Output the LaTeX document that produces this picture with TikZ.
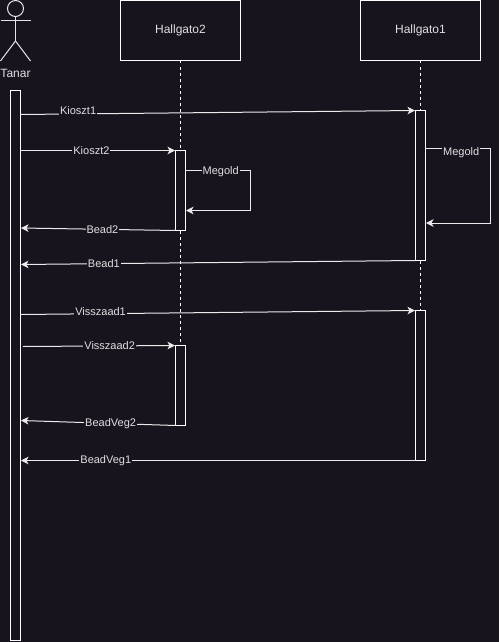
\documentclass[tikz,border=0pt]{standalone}
\usepackage{xcolor}
\usepackage{fontspec}
\setmainfont{Liberation Sans}
\usetikzlibrary{positioning, arrows.meta}
\definecolor{darkbg}{HTML}{18141D}
\definecolor{inktext}{HTML}{E0E0E0}

\begin{document}
\begin{tikzpicture}[
    x=1pt, y=-1pt,
    >=Stealth,
    line width=1pt,
    lifebox/.style={draw=white, minimum width=120pt, minimum height=60pt, inner sep=0pt, outer sep=0pt, align=center, text=inktext, font=\fontsize{12}{14}\selectfont},
    activation/.style={draw=white, minimum width=10pt, inner sep=0pt, outer sep=0pt},
    lifeline/.style={draw=white, dash pattern=on 3pt off 3pt},
    limb/.style={draw=white!90!black},
    msg/.style={-{Stealth[length=7.5pt, width=7.5pt, inset=2pt]}, draw=white!92!black},
    msglabel/.style={fill=darkbg, text=inktext, inner sep=1pt, font=\fontsize{11}{13}\selectfont},
]

    % Background
    \fill[darkbg] (0,0) rectangle (499,642);
    \useasboundingbox (0,0) rectangle (499,642);

    % Actor
    \node[circle, draw=white!90!black, minimum size=16pt, inner sep=0pt, outer sep=0pt] (head) at (15.5,8.5) {};
    \coordinate (hip) at (15.5,41);
    \coordinate (arm_l) at (0.5,20.5);
    \coordinate (arm_r) at (30.5,20.5);
    \coordinate (foot_l) at (0.5,61);
    \coordinate (foot_r) at (30.5,61);
    \node[text=inktext, font=\fontsize{12}{14}\selectfont] (tanar) at (15.5,73) {Tanar};
    \draw[limb] (head.south) -- (hip);
    \draw[limb] (arm_l) -- (arm_r);
    \draw[limb] (foot_l) -- (hip) -- (foot_r);

    % Lifeline boxes
    \node[lifebox] (hallgato2) at (180.5,30.5) {Hallgato2};
    \node[lifebox] (hallgato1) at (420.5,30.5) {Hallgato1};

    % Activations
    \node[activation, minimum height=550pt] (act_t) at (15.5,365.5) {};
    \node[activation, minimum height=80pt] (act_h2a) at (180.5,190.5) {};
    \node[activation, minimum height=80pt] (act_h2b) at (180.5,385.5) {};
    \node[activation, minimum height=150pt] (act_h1a) at (420.5,185.5) {};
    \node[activation, minimum height=150pt] (act_h1b) at (420.5,385.5) {};

    % Dashed lifelines
    \draw[lifeline] (hallgato2.south) -- (act_h2a.north);
    \draw[lifeline] (act_h2a.south) -- (act_h2b.north);
    \draw[lifeline] (hallgato1.south) -- (act_h1a.north);
    \draw[lifeline] (act_h1a.south) -- (act_h1b.north);

    % Kioszt
    \draw[msg] ([yshift=-24pt]act_t.north east) -- node[msglabel, pos=0.146, yshift=3pt] (kioszt1) {Kioszt1} ([xshift=-0.5pt]act_h1a.north west);
    \draw[msg] ([yshift=-60pt]act_t.north east) -- node[msglabel, pos=0.459] (kioszt2) {Kioszt2} ([xshift=-0.5pt]act_h2a.north west);

    % Megold
    \draw[msg] ([yshift=-20pt]act_h2a.north east) -- ++(64.5,0) node[msglabel, pos=0.545, yshift=-1.5pt] (megold2) {Megold} -- ++(0,40) -- ([yshift=-60pt, xshift=0.5pt]act_h2a.north east);
    \draw[msg] ([yshift=-37.5pt]act_h1a.north east) -- ++(65,0) node[msglabel, pos=0.55, yshift=-5pt] (megold1) {Megold} -- ++(0,75) -- ([yshift=-112.5pt, xshift=0.5pt]act_h1a.north east);

    % Bead
    \draw[msg] (act_h2a.south west) -- node[msglabel, pos=0.473] (bead2) {Bead2} ([yshift=-137.5pt, xshift=0.5pt]act_t.north east);
    \draw[msg] (act_h1a.south west) -- node[msglabel, pos=0.79] (bead1) {Bead1} ([yshift=-174pt, xshift=0.5pt]act_t.north east);

    % Visszaad
    \draw[msg] ([yshift=-224pt, xshift=0.5pt]act_t.north east) -- node[msglabel, pos=0.202, yshift=2pt] (visszaad1) {Visszaad1} ([xshift=-0.5pt]act_h1b.north west);
    \draw[msg] ([yshift=-256pt, xshift=2.5pt]act_t.north east) -- node[msglabel, pos=0.57] (visszaad2) {Visszaad2} ([xshift=-0.5pt]act_h2b.north west);

    % BeadVeg
    \draw[msg] (act_h2b.south west) -- node[msglabel, pos=0.42] (beadveg2) {BeadVeg2} ([yshift=-330pt, xshift=0.5pt]act_t.north east);
    \draw[msg] (act_h1b.south west) -- node[msglabel, pos=0.785] (beadveg1) {BeadVeg1} ([yshift=-370pt, xshift=0.5pt]act_t.north east);

\end{tikzpicture}
\end{document}
